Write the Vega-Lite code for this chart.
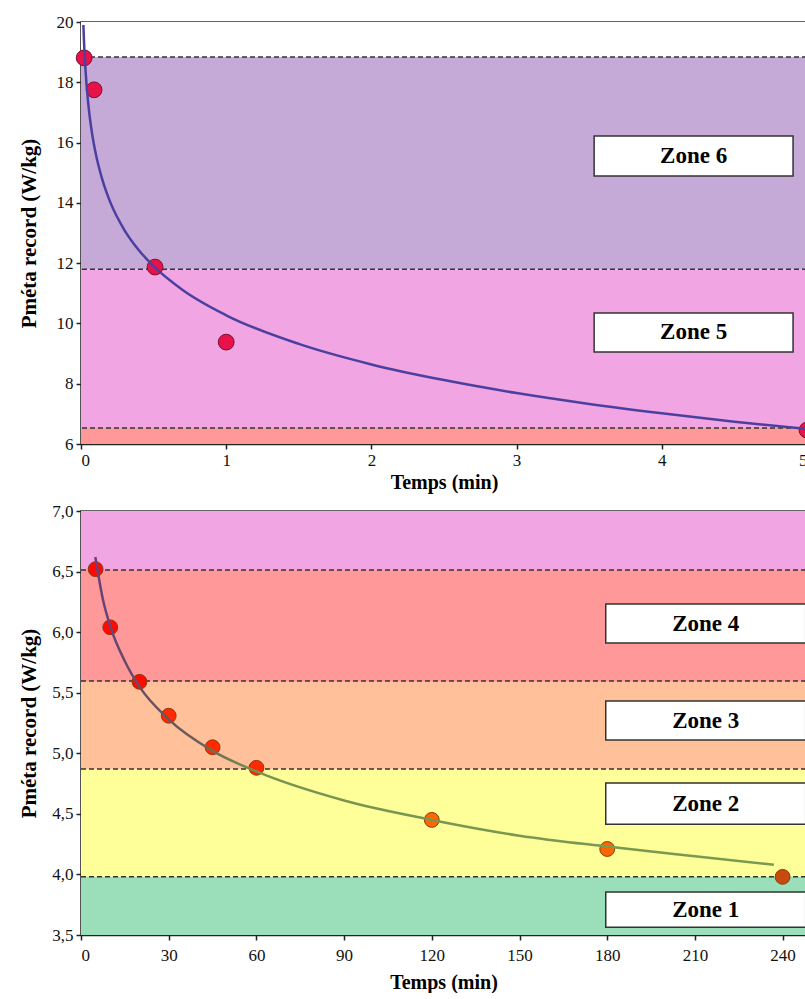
{
  "$schema": "https://vega.github.io/schema/vega-lite/v6.json",
  "background": "white",
  "padding": {"left": 17, "top": 12, "right": 0, "bottom": 0},
  "spacing": 8,
  "config": {
    "view": {"stroke": "#333333", "strokeWidth": 1.5},
    "scale": {"continuousPadding": 0},
    "axis": {
      "labelFont": "Liberation Serif", "labelFontSize": 17, "labelColor": "#111111",
      "titleFont": "Liberation Serif", "titleFontSize": 20, "titleFontWeight": "bold", "titleColor": "#000000",
      "domainColor": "#222222", "domainWidth": 1.5, "tickColor": "#222222", "tickSize": 5, "tickWidth": 1.5,
      "grid": false, "labelPadding": 3
    },
    "axisX": {"titlePadding": 4},
    "axisY": {"minExtent": 34, "maxExtent": 34, "titlePadding": 8, "titleFontSize": 21}
  },
  "datasets": {
    "bandsTop": [
      {"zone": "blanc", "lo": 18.84, "hi": 20},
      {"zone": "Zone 6", "lo": 11.8, "hi": 18.84},
      {"zone": "Zone 5", "lo": 6.53, "hi": 11.8},
      {"zone": "Zone 4", "lo": 6, "hi": 6.53}
    ],
    "rulesTop": [{"v": 18.84}, {"v": 11.8}, {"v": 6.53}],
    "pointsTop": [
      {"t": 0.022, "p": 18.81},
      {"t": 0.09, "p": 17.75},
      {"t": 0.51, "p": 11.87},
      {"t": 1.0, "p": 9.38},
      {"t": 5.0, "p": 6.46}
    ],
    "curveTop": [
      {"t": 0.0165, "p": 19.9},
      {"t": 0.02, "p": 19.44},
      {"t": 0.03, "p": 18.49},
      {"t": 0.05, "p": 17.29},
      {"t": 0.075, "p": 16.34},
      {"t": 0.1, "p": 15.67},
      {"t": 0.15, "p": 14.72},
      {"t": 0.2, "p": 14.04},
      {"t": 0.3, "p": 13.09},
      {"t": 0.4, "p": 12.42},
      {"t": 0.5, "p": 11.9},
      {"t": 0.7, "p": 11.11},
      {"t": 1.0, "p": 10.27},
      {"t": 1.5, "p": 9.32},
      {"t": 2.0, "p": 8.64},
      {"t": 2.5, "p": 8.12},
      {"t": 3.0, "p": 7.69},
      {"t": 3.5, "p": 7.33},
      {"t": 4.0, "p": 7.02},
      {"t": 4.5, "p": 6.74},
      {"t": 5.0, "p": 6.5}
    ],
    "boxesTop": [
      {"label": "Zone 6", "x1": 3.534, "x2": 4.904, "y1": 14.89, "y2": 16.22, "xc": 4.219, "yc": 15.555},
      {"label": "Zone 5", "x1": 3.534, "x2": 4.904, "y1": 9.05, "y2": 10.35, "xc": 4.219, "yc": 9.7}
    ],
    "bandsBottom": [
      {"zone": "Zone 5", "lo": 6.513, "hi": 7},
      {"zone": "Zone 4", "lo": 5.596, "hi": 6.513},
      {"zone": "Zone 3", "lo": 4.87, "hi": 5.596},
      {"zone": "Zone 2", "lo": 3.98, "hi": 4.87},
      {"zone": "Zone 1", "lo": 3.5, "hi": 3.98}
    ],
    "rulesBottom": [{"v": 6.513}, {"v": 5.596}, {"v": 4.87}, {"v": 3.98}],
    "pointsBottom": [
      {"t": 5, "p": 6.52, "zone": "Zone 4"},
      {"t": 10, "p": 6.04, "zone": "Zone 4"},
      {"t": 20, "p": 5.59, "zone": "Zone 4"},
      {"t": 30, "p": 5.31, "zone": "Zone 3"},
      {"t": 45, "p": 5.05, "zone": "Zone 3"},
      {"t": 60, "p": 4.88, "zone": "Zone 3"},
      {"t": 120, "p": 4.45, "zone": "Zone 2"},
      {"t": 180, "p": 4.21, "zone": "Zone 2"},
      {"t": 240, "p": 3.98, "zone": "Zone 1"}
    ],
    "curveBottom": [
      {"t": 4.9, "p": 6.62},
      {"t": 7.5, "p": 6.27},
      {"t": 10, "p": 6.05},
      {"t": 15, "p": 5.76},
      {"t": 20, "p": 5.55},
      {"t": 30, "p": 5.28},
      {"t": 45, "p": 5.02},
      {"t": 60, "p": 4.85},
      {"t": 90, "p": 4.61},
      {"t": 120, "p": 4.45},
      {"t": 150, "p": 4.32},
      {"t": 180, "p": 4.23},
      {"t": 210, "p": 4.15},
      {"t": 237, "p": 4.08}
    ],
    "boxesBottom": [
      {"label": "Zone 4", "x1": 179.5, "x2": 247.9, "y1": 5.91, "y2": 6.232, "xc": 213.7, "yc": 6.071},
      {"label": "Zone 3", "x1": 179.5, "x2": 247.9, "y1": 5.109, "y2": 5.431, "xc": 213.7, "yc": 5.27},
      {"label": "Zone 2", "x1": 179.5, "x2": 247.9, "y1": 4.415, "y2": 4.754, "xc": 213.7, "yc": 4.585},
      {"label": "Zone 1", "x1": 179.5, "x2": 247.9, "y1": 3.565, "y2": 3.854, "xc": 213.7, "yc": 3.71}
    ]
  },
  "vconcat": [
    {
      "width": 726,
      "height": 422,
      "layer": [
        {
          "data": {"name": "bandsTop"},
          "mark": {"type": "rect"},
          "encoding": {
            "x": {"datum": 0, "type": "quantitative", "scale": {"domain": [0, 5], "nice": false, "zero": false, "padding": 0}, "axis": {"values": [0, 1, 2, 3, 4, 5], "format": "d", "title": "Temps (min)"}, "title": "Temps (min)"},
            "x2": {"datum": 5},
            "y": {"field": "lo", "type": "quantitative", "scale": {"domain": [6, 20], "nice": false, "zero": false, "padding": 0}, "axis": {"values": [6, 8, 10, 12, 14, 16, 18, 20], "title": "Pméta record (W/kg)"}, "title": "Pméta record (W/kg)"},
            "y2": {"field": "hi"},
            "color": {"field": "zone", "type": "nominal", "legend": null,
              "scale": {"domain": ["blanc", "Zone 6", "Zone 5", "Zone 4", "Zone 3", "Zone 2", "Zone 1"],
                        "range": ["#FFFFFF", "#C5A9D6", "#F2A5E3", "#FF9999", "#FFC09A", "#FFFF99", "#9ADFBA"]}}
          }
        },
        {
          "data": {"name": "rulesTop"},
          "mark": {"type": "rule", "strokeDash": [5, 3], "color": "#333333", "strokeWidth": 1.5},
          "encoding": {"y": {"field": "v", "type": "quantitative", "title": "Pméta record (W/kg)"}}
        },
        {
          "data": {"name": "pointsTop"},
          "mark": {"type": "circle", "size": 250, "opacity": 1, "color": "#E8124A", "stroke": "#7A1030", "strokeWidth": 1},
          "encoding": {
            "x": {"field": "t", "type": "quantitative", "title": "Temps (min)"},
            "y": {"field": "p", "type": "quantitative", "title": "Pméta record (W/kg)"}
          }
        },
        {
          "data": {"name": "curveTop"},
          "mark": {"type": "line", "color": "#4B40A0", "strokeWidth": 2.5, "interpolate": "monotone"},
          "encoding": {
            "x": {"field": "t", "type": "quantitative", "title": "Temps (min)"},
            "y": {"field": "p", "type": "quantitative", "title": "Pméta record (W/kg)"}
          }
        },
        {
          "data": {"name": "boxesTop"},
          "mark": {"type": "rect", "fill": "#FFFFFF", "stroke": "#333333", "strokeWidth": 1.5},
          "encoding": {
            "x": {"field": "x1", "type": "quantitative", "title": "Temps (min)"},
            "x2": {"field": "x2"},
            "y": {"field": "y1", "type": "quantitative", "title": "Pméta record (W/kg)"},
            "y2": {"field": "y2"}
          }
        },
        {
          "data": {"name": "boxesTop"},
          "mark": {"type": "text", "font": "Liberation Serif", "fontWeight": "bold", "fontSize": 23, "color": "#000000", "align": "center", "baseline": "middle"},
          "encoding": {
            "x": {"field": "xc", "type": "quantitative", "title": "Temps (min)"},
            "y": {"field": "yc", "type": "quantitative", "title": "Pméta record (W/kg)"},
            "text": {"field": "label"}
          }
        }
      ]
    },
    {
      "width": 725,
      "height": 424,
      "resolve": {"scale": {"color": "independent"}},
      "layer": [
        {
          "data": {"name": "bandsBottom"},
          "mark": {"type": "rect"},
          "encoding": {
            "x": {"datum": 0, "type": "quantitative", "scale": {"domain": [0, 248], "nice": false, "zero": false, "padding": 0}, "axis": {"values": [0, 30, 60, 90, 120, 150, 180, 210, 240], "format": "d", "title": "Temps (min)", "labelPadding": 7, "titlePadding": 9}, "title": "Temps (min)"},
            "x2": {"datum": 248},
            "y": {"field": "lo", "type": "quantitative", "scale": {"domain": [3.5, 7], "nice": false, "zero": false, "padding": 0},
                  "axis": {"values": [3.5, 4, 4.5, 5, 5.5, 6, 6.5, 7], "labelExpr": "replace(format(datum.value, '.1f'), '.', ',')", "title": "Pméta record (W/kg)"},
                  "title": "Pméta record (W/kg)"},
            "y2": {"field": "hi"},
            "color": {"field": "zone", "type": "nominal", "legend": null,
              "scale": {"domain": ["Zone 5", "Zone 4", "Zone 3", "Zone 2", "Zone 1"],
                        "range": ["#F2A5E3", "#FF9999", "#FFC09A", "#FFFF99", "#9ADFBA"]}}
          }
        },
        {
          "data": {"name": "rulesBottom"},
          "mark": {"type": "rule", "strokeDash": [5, 3], "color": "#333333", "strokeWidth": 1.5},
          "encoding": {"y": {"field": "v", "type": "quantitative", "title": "Pméta record (W/kg)"}}
        },
        {
          "data": {"name": "pointsBottom"},
          "mark": {"type": "circle", "size": 220, "opacity": 1, "stroke": "#8A3A10", "strokeWidth": 1},
          "encoding": {
            "x": {"field": "t", "type": "quantitative", "title": "Temps (min)"},
            "y": {"field": "p", "type": "quantitative", "title": "Pméta record (W/kg)"},
            "color": {"field": "zone", "type": "nominal", "legend": null,
              "scale": {"domain": ["Zone 4", "Zone 3", "Zone 2", "Zone 1"], "range": ["#FF0A00", "#FF2A00", "#FF6600", "#C84A10"]}}
          }
        },
        {
          "data": {"name": "curveBottom"},
          "mark": {"type": "line", "strokeWidth": 2.5, "interpolate": "monotone",
            "color": {"gradient": "linear", "x1": 0, "x2": 1, "y1": 0, "y2": 0,
              "stops": [
                {"offset": 0, "color": "#6A3F80"},
                {"offset": 0.05, "color": "#6A4A66"},
                {"offset": 0.15, "color": "#6B5E58"},
                {"offset": 0.24, "color": "#789450"},
                {"offset": 1, "color": "#7A9A50"}
              ]}},
          "encoding": {
            "x": {"field": "t", "type": "quantitative", "title": "Temps (min)"},
            "y": {"field": "p", "type": "quantitative", "title": "Pméta record (W/kg)"}
          }
        },
        {
          "data": {"name": "boxesBottom"},
          "mark": {"type": "rect", "fill": "#FFFFFF", "stroke": "#333333", "strokeWidth": 1.5},
          "encoding": {
            "x": {"field": "x1", "type": "quantitative", "title": "Temps (min)"},
            "x2": {"field": "x2"},
            "y": {"field": "y1", "type": "quantitative", "title": "Pméta record (W/kg)"},
            "y2": {"field": "y2"}
          }
        },
        {
          "data": {"name": "boxesBottom"},
          "mark": {"type": "text", "font": "Liberation Serif", "fontWeight": "bold", "fontSize": 23, "color": "#000000", "align": "center", "baseline": "middle"},
          "encoding": {
            "x": {"field": "xc", "type": "quantitative", "title": "Temps (min)"},
            "y": {"field": "yc", "type": "quantitative", "title": "Pméta record (W/kg)"},
            "text": {"field": "label"}
          }
        }
      ]
    }
  ]
}
